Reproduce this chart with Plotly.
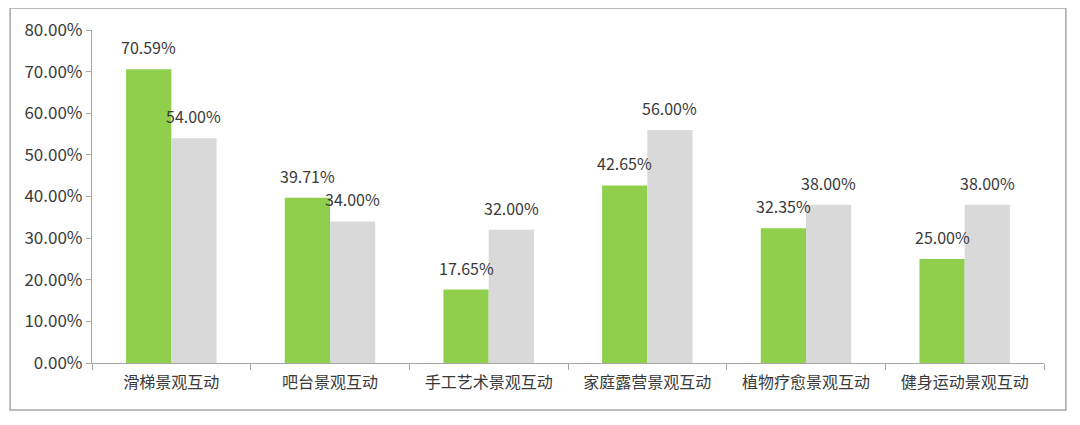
import plotly.graph_objects as go

# Data
categories = ["滑梯景观互动", "吧台景观互动", "手工艺术景观互动", "家庭露营景观互动", "植物疗愈景观互动", "健身运动景观互动"]
green_values = [0.7059, 0.3971, 0.1765, 0.4265, 0.3235, 0.25]
gray_values = [0.54, 0.34, 0.32, 0.56, 0.38, 0.38]
y_ticks = [0, 0.1, 0.2, 0.3, 0.4, 0.5, 0.6, 0.7, 0.8]

font_family = "Noto Sans CJK SC, Noto Sans, sans-serif"
text_color = "#3a3a3a"
half_bar_px = 22.5  # half of one bar's width, for placing the value labels

fig = go.Figure()
fig.add_trace(go.Bar(x=categories, y=green_values, name="A",
                     marker=dict(color="#8FCF4C", line=dict(width=0))))
fig.add_trace(go.Bar(x=categories, y=gray_values, name="B",
                     marker=dict(color="#D9D9D9", line=dict(width=0))))

# value labels above the bars
for cat, g, s in zip(categories, green_values, gray_values):
    fig.add_annotation(x=cat, y=g, text=f"{g:.2%}", showarrow=False,
                       xshift=-half_bar_px, yshift=22)
    fig.add_annotation(x=cat, y=s, text=f"{s:.2%}", showarrow=False,
                       xshift=half_bar_px, yshift=22)

# outer frame around the chart
fig.add_shape(type="rect", xref="paper", yref="paper",
              x0=-0.086, x1=1.023, y0=-0.141, y1=1.066,
              line=dict(color="#A6A6A6", width=1.5))

# page body adds an 8px margin, so the figure is 8px smaller and shifted
fig.update_layout(
    width=1072, height=417,
    margin=dict(l=84, r=36, t=22, b=62),
    barmode="group", bargap=0.43, bargroupgap=0,
    showlegend=False,
    plot_bgcolor="white", paper_bgcolor="white",
    font=dict(family=font_family, size=16, color=text_color),
)
fig.update_xaxes(showline=True, linecolor="#A6A6A6", linewidth=1.2,
                 ticks="outside", tickson="boundaries", ticklen=6, tickcolor="#A6A6A6",
                 ticklabelstandoff=5,
                 showgrid=False, automargin=False, tickfont=dict(size=16))
fig.update_yaxes(range=[0, 0.8], tickvals=y_ticks, tickformat=".2%",
                 showline=True, linecolor="#A6A6A6", linewidth=1.2,
                 ticks="outside", ticklen=5, tickcolor="#A6A6A6",
                 showgrid=False, zeroline=False, automargin=False, tickfont=dict(size=17))

fig.write_html("out.html")
